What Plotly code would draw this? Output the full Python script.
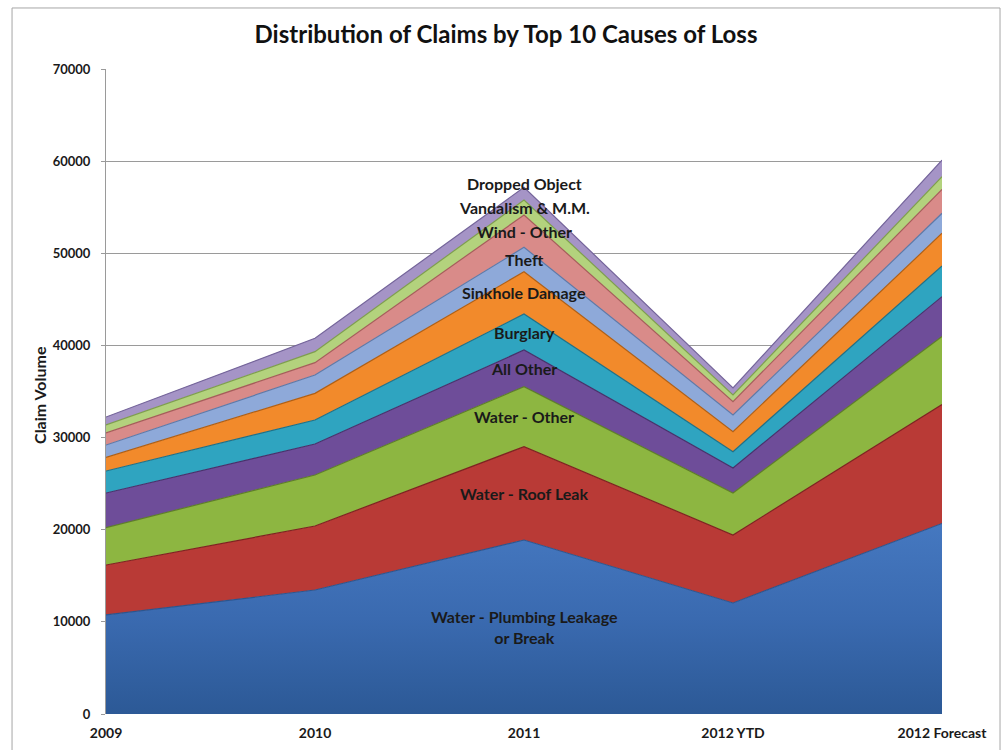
import plotly.graph_objects as go

years = ["2009", "2010", "2011", "2012 YTD", "2012 Forecast"]

plumbing = [10750, 13460, 18880, 12050, 20680]
roof_leak = [5420, 6940, 10130, 7380, 12910]
water_other = [4050, 5540, 6510, 4550, 7390]
all_other = [3760, 3360, 3980, 2720, 4320]
burglary = [2390, 2610, 3910, 1770, 3320]
sinkhole = [1470, 2890, 4590, 2170, 3550]
theft = [1350, 1990, 2650, 1810, 2170]
wind_other = [1310, 1340, 3500, 1440, 2600]
vandalism = [870, 1190, 1630, 730, 1380]
dropped = [860, 1450, 1380, 760, 1800]

series = [
    ("Water - Plumbing Leakage<br>or Break", plumbing, "#3E6FB6", "#2B558F"),
    ("Water - Roof Leak", roof_leak, "#B93A36", "#7E2220"),
    ("Water - Other", water_other, "#8DB641", "#5E7E28"),
    ("All Other", all_other, "#6E4D99", "#47306A"),
    ("Burglary", burglary, "#2FA4C0", "#1D7088"),
    ("Sinkhole Damage", sinkhole, "#F28A2B", "#B05F14"),
    ("Theft", theft, "#8EA9D9", "#5D79A8"),
    ("Wind - Other", wind_other, "#D98B89", "#A65C5A"),
    ("Vandalism & M.M.", vandalism, "#B3D27D", "#7E9E4C"),
    ("Dropped Object", dropped, "#A594C6", "#74649A"),
]

FONT = "Lato, 'Open Sans', sans-serif"

fig = go.Figure()
for i, (name, vals, col, dark) in enumerate(series):
    kw = {}
    if i == 0:
        kw["fillgradient"] = dict(type="vertical",
                                  colorscale=[[0, "#2C5996"], [0.5, "#3A6AB0"], [1, "#4578C0"]])
    else:
        kw["fillcolor"] = col
    fig.add_trace(go.Scatter(
        x=years, y=vals, name=name.replace("<br>", " "), stackgroup="one",
        mode="lines", line=dict(color=dark, width=1.2),
        hoverinfo="skip", showlegend=False, **kw,
    ))

# Labels at the 2011 column (category index 2), centred in each band
annotations = []
cum = 0
peak = 2
for i, (name, vals, col, dark) in enumerate(series):
    mid = cum + vals[peak] / 2
    cum += vals[peak]
    annotations.append(dict(
        x=peak, y=mid, xref="x", yref="y", text=f"<b>{name}</b>",
        showarrow=False, font=dict(family=FONT, size=16, color="#1A1A1A"),
        yshift=10 if i == len(series) - 1 else 0,
    ))

annotations.append(dict(
    x=-0.079, y=0.4946, xref="paper", yref="paper", text="<b>Claim Volume</b>",
    textangle=-90, showarrow=False, xanchor="center", yanchor="middle",
    font=dict(family=FONT, size=16, color="#1A1A1A"),
))

fig.update_layout(
    width=1005, height=750,
    margin=dict(l=106, r=63, t=69, b=36),
    paper_bgcolor="white", plot_bgcolor="white",
    title=dict(text="<b>Distribution of Claims by Top 10 Causes of Loss</b>",
               x=0.5035, xref="container", xanchor="center",
               y=1 - 35 / 750, yref="container", yanchor="middle",
               font=dict(family=FONT, size=24, color="#111111")),
    xaxis=dict(type="category", range=[0, 4], showgrid=False, zeroline=False,
               showline=False, ticks="outside", ticklen=6, tickcolor="rgba(0,0,0,0)",
               automargin=False,
               tickfont=dict(family=FONT, size=14, color="#1A1A1A", weight="bold")),
    yaxis=dict(range=[0, 70000], dtick=10000, tickformat="d", showgrid=True,
               gridcolor="#9A9A9A", gridwidth=1, zeroline=False, showline=True,
               linecolor="#9A9A9A", linewidth=1, ticks="outside", ticklen=4,
               tickcolor="#9A9A9A", ticklabelstandoff=8, automargin=False,
               tickfont=dict(family=FONT, size=13, color="#1A1A1A", weight="bold")),
    annotations=annotations,
    shapes=[dict(type="rect", xref="paper", yref="paper",
                 x0=-0.1124, x1=1.0694, y0=-0.1, y1=1.0946,
                 line=dict(color="#A6A6A6", width=1), fillcolor="rgba(0,0,0,0)",
                 layer="below")],
)

fig.write_html("out.html")
